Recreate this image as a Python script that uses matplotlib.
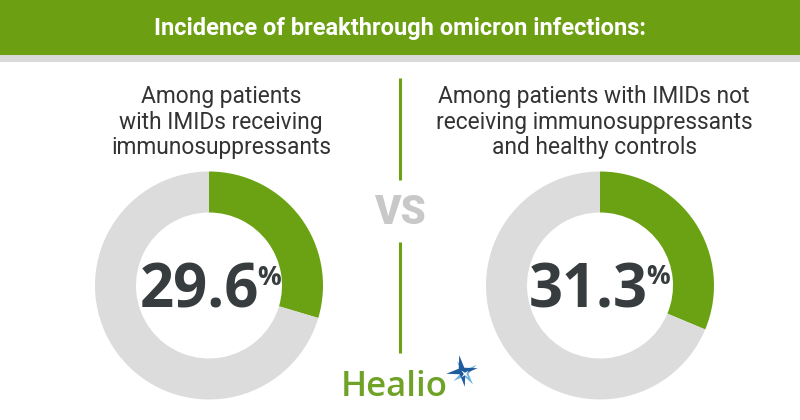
import numpy as np
import matplotlib
matplotlib.use("Agg")
import matplotlib.pyplot as plt
from matplotlib.patches import Rectangle, Polygon

# Data
title = "Incidence of breakthrough omicron infections:"
groups = [
    "Among patients\nwith IMIDs receiving\nimmunosuppressants",
    "Among patients with IMIDs not\nreceiving immunosuppressants\nand healthy controls",
]
incidence = [29.6, 31.3]

# Style
GREEN = "#6ba213"
HEADER = "#6c9f12"
RING = "#dcdcdc"
DARK = "#373c3f"
TEXT = "#333333"
H = 420

def Y(py):
    # pixel row (top-down) -> data y (bottom-up)
    return H - py

fig = plt.figure(figsize=(8, 4.2), dpi=100)
ax = fig.add_axes([0, 0, 1, 1])

# header band
ax.add_patch(Rectangle((0, Y(55)), 800, 55, color=HEADER, lw=0))
ax.add_patch(Rectangle((0, Y(62)), 800, 7, color="#d9d9d9", lw=0))
ax.text(400, Y(28), title, ha="center", va="center", color="white",
        fontsize=17, fontweight="bold",
        family=["Liberation Sans Narrow", "Roboto"])

centers = [(209, 285.5), (600, 285.5)]
label_x = [221, 594]
num_pos = [(199, 308), (588, 307)]

for i, val in enumerate(incidence):
    cx, cy = centers[i]
    ax.pie([val, 100 - val], colors=[GREEN, RING], startangle=90,
           counterclock=False, center=(cx, Y(cy)), radius=114,
           wedgeprops=dict(width=41, linewidth=0))
    ax.text(label_x[i], Y(122), groups[i], ha="center", va="center",
            fontsize=16.4, color=TEXT, family="Roboto", linespacing=1.12)
    nx, ny = num_pos[i]
    num = ax.text(nx, Y(ny), f"{val:.1f}", ha="center", va="baseline",
                  fontsize=43, fontweight="bold", color=DARK, family="Open Sans")
    ax.annotate("%", xy=(1.0, 0.97), xycoords=num, xytext=(-1, 0),
                textcoords="offset points", ha="left", va="top",
                fontsize=19, fontweight="bold", color=DARK, family="Open Sans")

# divider and VS
ax.plot([400, 400], [Y(78), Y(180)], color=GREEN, lw=2.2, solid_capstyle="butt")
ax.plot([400, 400], [Y(242), Y(353)], color=GREEN, lw=2.2, solid_capstyle="butt")
ax.text(400, Y(212), "VS", ha="center", va="center", fontsize=29,
        fontweight="heavy", color="#c8c8c8", family="Roboto")

# Healio logo
ax.text(341, Y(396), "Healio", ha="left", va="baseline", fontsize=25,
        fontweight="semibold", color="#6fa226", family="Open Sans")

def star(cx, cy, r_long, r_short, color, rot=0):
    pts = []
    for k in range(8):
        a = np.deg2rad(rot + 45 * k)
        r = r_long if k % 2 == 0 else r_short
        pts.append((cx + r * np.cos(a), cy + r * np.sin(a)))
    ax.add_patch(Polygon(pts, closed=True, color=color, lw=0))

sx, sy = 462, Y(371)
star(sx + 3, sy - 2, 14, 3.5, "#6fb3e0", rot=35)
star(sx, sy, 16, 4, "#1f5c9e", rot=10)
star(sx + 3, sy - 3, 5, 1.2, "white", rot=45)

ax.set_xlim(0, 800)
ax.set_ylim(0, H)
ax.set_aspect("auto")
ax.axis("off")

fig.savefig("out.png", dpi=100, facecolor="white")
